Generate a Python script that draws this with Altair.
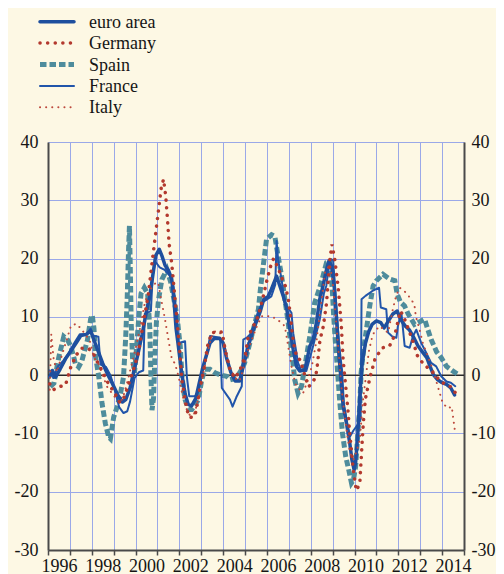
import altair as alt
import pandas as pd

# ---------------- data ----------------
SERIES = ["euro area", "Germany", "Spain", "France", "Italy"]

euro_years = [1996.08, 1996.2, 1996.35, 1996.55, 1996.8, 1997.05, 1997.3, 1997.5, 1997.75, 1997.95,
              1998.05, 1998.25, 1998.5, 1998.7, 1998.95, 1999.2, 1999.4, 1999.55, 1999.75, 1999.9,
              2000.1, 2000.3, 2000.5, 2000.65, 2000.8, 2000.92, 2001.08, 2001.2, 2001.35, 2001.5,
              2001.65, 2001.75, 2001.85, 2001.97, 2002.1, 2002.25, 2002.4, 2002.55, 2002.75, 2002.9,
              2003.05, 2003.2, 2003.4, 2003.6, 2003.85, 2004.0, 2004.15, 2004.35, 2004.55, 2004.75,
              2004.95, 2005.15, 2005.35, 2005.55, 2005.7, 2005.85, 2006.05, 2006.2, 2006.44, 2006.59,
              2006.75, 2006.9, 2007.05, 2007.2, 2007.35, 2007.5, 2007.73, 2007.96, 2008.11, 2008.26,
              2008.41, 2008.56, 2008.72, 2008.83, 2008.95, 2009.07, 2009.17, 2009.28, 2009.37, 2009.48,
              2009.63, 2009.78, 2009.88, 2009.98, 2010.05, 2010.15, 2010.25, 2010.35, 2010.5, 2010.65,
              2010.8, 2011.0, 2011.2, 2011.35, 2011.5, 2011.75, 2011.95, 2012.1, 2012.3, 2012.5,
              2012.7, 2012.9, 2013.1, 2013.3, 2013.45, 2013.6, 2013.8, 2014.0, 2014.2, 2014.4, 2014.57]
euro_vals = [-0.3, 0.8, -0.3, 1.0, 2.8, 4.2, 5.6, 6.8, 7.0, 7.6,
             6.5, 4.5, 2.0, 0.3, -1.5, -3.5, -4.6, -4.2, -2.2, 0.3,
             3.5, 7.0, 11.0, 13.5, 17.5, 20.5, 21.6, 20.5, 18.8, 18.0,
             16.5, 13.0, 8.0, 4.5, 0.5, -3.0, -5.0, -5.3, -4.0, -1.5,
             1.0, 3.0, 5.5, 6.3, 6.3, 5.5, 3.0, 0.5, -1.0, -1.0,
             2.0, 5.0, 7.5, 9.5, 11.0, 13.0, 13.5, 14.7, 17.0, 15.3,
             13.5, 11.5, 7.8, 4.4, 1.5, 0.7, 0.9, 5.0, 6.1, 9.0,
             13.0, 15.3, 18.1, 19.6, 18.7, 15.3, 10.1, 3.8, -0.2, -5.3,
             -8.2, -11.6, -14.5, -16.2, -15.0, -10.0, -3.0, 2.0, 5.5, 7.5,
             8.7, 9.3, 9.0, 8.1, 9.0, 10.5, 11.0, 9.6, 8.5, 7.8,
             6.5, 5.0, 4.0, 3.0, 1.5, 0.1, -0.8, -1.3, -1.6, -2.2, -3.4]

france_years = [1996.08, 1996.25, 1996.45, 1996.7, 1996.95, 1997.2, 1997.45, 1997.75, 1997.95, 1998.05,
                1998.3, 1998.4, 1998.65, 1998.85, 1999.05, 1999.25, 1999.45, 1999.62, 1999.75, 1999.85,
                1999.95, 2000.15, 2000.35, 2000.42, 2000.7, 2000.78, 2000.9, 2001.1, 2001.35, 2001.58,
                2001.73, 2001.89, 2001.96, 2002.26, 2002.34, 2002.45, 2002.72, 2002.85, 2003.1, 2003.3,
                2003.4, 2003.86, 2003.94, 2004.31, 2004.43, 2004.6, 2004.85, 2004.92, 2005.1, 2005.23,
                2005.4, 2005.6, 2005.8, 2006.0, 2006.2, 2006.38, 2006.44, 2006.51, 2006.67, 2006.82,
                2006.97, 2007.12, 2007.2, 2007.42, 2007.58, 2007.8, 2008.11, 2008.41, 2008.6, 2008.71,
                2008.79, 2008.9, 2009.02, 2009.09, 2009.17, 2009.3, 2009.43, 2009.51, 2009.66, 2009.8,
                2009.95, 2010.15, 2010.28, 2010.32, 2010.5, 2010.8, 2011.12, 2011.2, 2011.45, 2011.53,
                2011.7, 2011.91, 2011.98, 2012.14, 2012.29, 2012.52, 2012.67, 2012.82, 2013.05, 2013.28,
                2013.5, 2013.73, 2013.96, 2014.2, 2014.4, 2014.6]
france_vals = [0.8, -0.5, 1.5, 2.5, 3.8, 5.5, 7.0, 7.0, 8.0, 6.8,
               6.6, 1.8, 1.4, 0.0, -2.5, -5.5, -6.5, -6.2, -4.5, -2.5,
               -0.5, 0.5, 0.8, 10.5, 11.0, 17.0, 19.5, 18.5, 18.0, 17.0,
               15.3, 10.1, 5.5, 5.8, -0.2, -3.6, -3.6, -2.8, 1.0, 4.4,
               6.7, 6.4, -2.2, -4.2, -5.4, -3.8, -1.9, 6.1, 6.5, 7.0,
               8.5, 11.0, 12.5, 13.0, 13.5, 15.5, 23.0, 19.8, 16.4, 12.1,
               11.5, 10.7, 7.2, 2.1, 0.7, 0.7, 5.0, 9.5, 14.0, 15.3,
               17.6, 19.8, 19.8, 16.4, 11.8, 5.0, 0.9, -4.8, -8.2, -10.5,
               -9.5, -8.5, -7.5, 13.0, 13.6, 14.4, 15.0, 11.6, 11.3, 7.3,
               6.7, 6.4, 8.4, 10.7, 5.0, 4.7, 6.7, 7.8, 5.5, 3.8,
               2.1, 1.5, -0.2, -1.1, -1.3, -1.9]

germany_years = [1996.08, 1996.25, 1996.5, 1996.8, 1997.05, 1997.3, 1997.55, 1997.85, 1998.1, 1998.25,
                 1998.5, 1998.75, 1999.05, 1999.28, 1999.45, 1999.6, 1999.74, 1999.95, 2000.12, 2000.35,
                 2000.57, 2000.73, 2000.88, 2001.03, 2001.18, 2001.28, 2001.38, 2001.46, 2001.53, 2001.65,
                 2001.75, 2001.88, 2002.0, 2002.12, 2002.26, 2002.42, 2002.6, 2002.72, 2002.8, 2002.95,
                 2003.12, 2003.28, 2003.48, 2003.71, 2003.95, 2004.09, 2004.31, 2004.54, 2004.77, 2005.0,
                 2005.15, 2005.38, 2005.6, 2005.8, 2005.98, 2006.15, 2006.3, 2006.5, 2006.7, 2006.85,
                 2006.98, 2007.06, 2007.14, 2007.22, 2007.36, 2007.52, 2007.7, 2007.9, 2008.05, 2008.2,
                 2008.28, 2008.42, 2008.57, 2008.72, 2008.8, 2008.87, 2008.97, 2009.1, 2009.25, 2009.33,
                 2009.4, 2009.48, 2009.6, 2009.7, 2009.78, 2009.86, 2009.93, 2010.08, 2010.24, 2010.3,
                 2010.4, 2010.5, 2010.7, 2010.95, 2011.3, 2011.6, 2011.85, 2012.0, 2012.1, 2012.25,
                 2012.45, 2012.6, 2012.74, 2012.85, 2012.97, 2013.27, 2013.5, 2013.8, 2014.1, 2014.4, 2014.6]
germany_vals = [-1.5, -2.5, -2.0, -1.7, 1.5, 3.5, 4.6, 4.6, 3.5, 2.3,
                0.5, -1.4, -3.1, -4.7, -4.0, -2.5, -0.9, 1.5, 3.7, 8.9,
                13.5, 18.6, 23.2, 27.8, 32.4, 33.6, 30.6, 26.6, 22.6, 19.2,
                15.2, 10.0, 5.0, -1.0, -4.2, -7.1, -7.3, -6.8, -5.4, -2.0,
                0.9, 4.9, 7.3, 7.3, 7.4, 4.4, 0.9, -0.5, 0.9, 3.2,
                6.7, 8.4, 10.1, 13.0, 16.0, 18.5, 20.0, 18.5, 16.5, 15.2,
                12.9, 10.6, 7.7, 5.4, 3.1, 2.6, 0.3, -2.0, -1.4, -0.5,
                0.9, 6.0, 8.3, 12.3, 16.3, 19.8, 22.4, 19.8, 15.2, 11.7,
                8.3, 2.6, -2.0, -6.0, -10.0, -12.9, -15.8, -19.8, -18.6, -14.6,
                -8.3, -4.0, -0.5, 3.0, 4.7, 5.0, 7.0, 9.5, 11.0, 10.0,
                8.0, 6.5, 5.0, 3.5, 2.7, 1.5, 0.8, -0.5, -1.5, -2.0, -3.0]

italy_years = [1996.08, 1996.15, 1996.25, 1996.4, 1996.6, 1996.85, 1997.05, 1997.3, 1997.5, 1997.7,
               1997.9, 1998.1, 1998.3, 1998.5, 1998.7, 1998.9, 1999.1, 1999.3, 1999.45, 1999.6,
               1999.8, 2000.0, 2000.2, 2000.4, 2000.6, 2000.75, 2000.95, 2001.05, 2001.2, 2001.35,
               2001.5, 2001.66, 2001.8, 2001.96, 2002.19, 2002.35, 2002.5, 2002.7, 2002.9, 2003.1,
               2003.3, 2003.45, 2003.6, 2003.8, 2004.0, 2004.15, 2004.35, 2004.55, 2004.75, 2004.95,
               2005.15, 2005.35, 2005.55, 2005.76, 2006.06, 2006.36, 2006.59, 2006.82, 2006.97, 2007.12,
               2007.3, 2007.5, 2007.65, 2007.85, 2008.05, 2008.27, 2008.5, 2008.65, 2008.88, 2009.0,
               2009.1, 2009.25, 2009.4, 2009.55, 2009.7, 2009.8, 2009.95, 2010.1, 2010.24, 2010.39,
               2010.54, 2010.65, 2010.8, 2010.91, 2011.15, 2011.35, 2011.53, 2011.75, 2011.9, 2012.06,
               2012.28, 2012.6, 2012.74, 2012.8, 2012.97, 2013.12, 2013.35, 2013.58, 2013.8, 2014.03,
               2014.26, 2014.44, 2014.5, 2014.6]
italy_vals = [-2.5, 7.0, 3.0, 0.5, 3.0, 6.0, 8.5, 8.8, 8.0, 7.0,
              6.0, 3.0, 2.0, 0.0, -2.0, -3.0, -4.0, -4.8, -3.5, -1.5,
              1.5, 4.5, 8.0, 12.0, 14.5, 15.0, 16.0, 15.5, 12.4, 9.5,
              6.1, 2.7, 2.0, -0.2, -4.2, -6.0, -7.0, -6.5, -3.5, 0.5,
              4.0, 6.5, 7.5, 7.5, 6.5, 3.5, 1.0, -0.5, -1.0, 1.5,
              4.5, 6.5, 8.5, 10.1, 10.1, 9.8, 9.2, 8.4, 5.0, 1.5,
              -1.5, -2.5, -3.1, -1.0, 1.5, 6.1, 13.0, 17.6, 19.0, 16.0,
              11.8, 5.0, -2.0, -7.0, -11.1, -13.4, -14.5, -13.0, -11.1, -4.2,
              0.4, 4.0, 6.5, 7.5, 8.4, 7.8, 7.3, 11.3, 13.6, 15.0,
              14.4, 13.0, 11.9, 10.1, 7.8, 5.5, 3.2, 0.9, -1.9, -4.8,
              -5.7, -5.4, -7.1, -10.0]

spain_years = [1996.1, 1996.27, 1996.5, 1996.72, 1996.9, 1997.05, 1997.25, 1997.4, 1997.55, 1997.8,
               1997.95, 1998.02, 1998.1, 1998.17, 1998.32, 1998.47, 1998.62, 1998.77, 1998.85, 1999.0,
               1999.15, 1999.3, 1999.45, 1999.55, 1999.62, 1999.68, 1999.72, 1999.76, 1999.8, 1999.86,
               1999.95, 2000.05, 2000.15, 2000.25, 2000.4, 2000.55, 2000.65, 2000.7, 2000.75, 2000.82,
               2000.88, 2000.95, 2001.05, 2001.2, 2001.43, 2001.6, 2001.75, 2001.9, 2001.98, 2002.04,
               2002.11, 2002.19, 2002.26, 2002.42, 2002.57, 2002.87, 2003.02, 2003.17, 2003.4, 2003.63,
               2003.9, 2004.16, 2004.31, 2004.6, 2004.85, 2004.98, 2005.15, 2005.3, 2005.45, 2005.61,
               2005.7, 2005.83, 2005.98, 2006.21, 2006.36, 2006.51, 2006.67, 2006.82, 2006.97, 2007.12,
               2007.27, 2007.42, 2007.58, 2007.73, 2007.96, 2008.18, 2008.41, 2008.56, 2008.72, 2008.87,
               2008.98, 2009.05, 2009.12, 2009.2, 2009.33, 2009.45, 2009.6, 2009.75, 2009.86, 2009.95,
               2010.05, 2010.15, 2010.24, 2010.3, 2010.4, 2010.5, 2010.7, 2010.85, 2011.0, 2011.3,
               2011.6, 2011.84, 2011.95, 2012.1, 2012.28, 2012.45, 2012.74, 2013.0, 2013.2, 2013.35,
               2013.5, 2013.75, 2013.96, 2014.2, 2014.45, 2014.7]
spain_vals = [-2.0, -1.4, 3.2, 6.6, 6.0, 4.9, 2.0, 1.4, 2.5, 6.0,
              9.7, 10.3, 8.0, 3.2, -0.3, -4.9, -8.3, -10.6, -10.9, -7.2,
              -5.5, -3.4, -0.3, 6.6, 13.5, 21.5, 25.6, 18.0, 9.0, 3.0,
              0.4, 5.0, 10.0, 14.0, 15.0, 14.0, 8.0, 0.0, -6.0, -4.0,
              3.0, 9.0, 13.0, 16.4, 18.1, 16.0, 13.0, 10.0, 7.0, 5.0,
              0.4, -2.5, -4.2, -5.9, -5.9, -4.2, -0.8, 1.0, 1.0, 0.4,
              0.0, -0.2, -0.8, -0.5, 1.0, 2.1, 4.5, 6.7, 8.9, 11.3,
              14.7, 18.7, 23.3, 24.1, 23.8, 20.4, 17.0, 13.0, 9.0, 4.4,
              -0.8, -3.1, -1.9, 1.5, 6.7, 12.4, 15.0, 17.0, 19.3, 19.5,
              15.0, 10.0, 6.0, 2.0, -4.8, -10.0, -14.0, -16.5, -18.5, -18.0,
              -15.7, -10.0, -5.4, 0.4, 4.0, 6.7, 12.0, 15.3, 16.2, 17.3,
              16.5, 16.2, 13.9, 12.5, 11.9, 10.5, 8.7, 9.2, 9.6, 7.8,
              6.1, 4.0, 3.0, 1.5, 0.8, 0.2]

x_tick_years = list(range(1996, 2016))
y_tick_values = list(range(-30, 41, 10))

# ---------------- tables ----------------
series_data = {
    "euro area": (euro_years, euro_vals),
    "Germany": (germany_years, germany_vals),
    "Spain": (spain_years, spain_vals),
    "France": (france_years, france_vals),
    "Italy": (italy_years, italy_vals),
}
df = pd.concat(
    [pd.DataFrame({"year": ys, "value": vs, "series": name}) for name, (ys, vs) in series_data.items()],
    ignore_index=True,
)

legend_lines = pd.DataFrame(
    [{"series": s, "rank": i, "pos": p} for i, s in enumerate(SERIES) for p in (0, 1)]
)
legend_text = pd.DataFrame([{"series": s, "rank": i, "pos": 1.44} for i, s in enumerate(SERIES)])

# ---------------- styles ----------------
FONT = "Liberation Serif, Times New Roman, DejaVu Serif, serif"
BG = "#fdf8e4"
GRID = "#9aa8e8"
AXIS_COL = "#4a4a4a"
TEXT_COL = "#151515"

styles = {
    "euro area": dict(color="#1e4f9e", strokeWidth=3.5, strokeCap="round", strokeJoin="round"),
    "Germany": dict(color="#b3392e", strokeWidth=3.5, strokeDash=[0.1, 7.5], strokeCap="round"),
    "Spain": dict(color="#4e8c9c", strokeWidth=5, strokeDash=[6.5, 3], strokeCap="butt"),
    "France": dict(color="#2155aa", strokeWidth=2, strokeCap="round", strokeJoin="round"),
    "Italy": dict(color="#bd4a3e", strokeWidth=2, strokeDash=[0.1, 6], strokeCap="round"),
}
draw_order = ["Spain", "France", "euro area", "Italy", "Germany"]

xscale = alt.Scale(domain=[1996, 2015], nice=False, zero=False)
yscale = alt.Scale(domain=[-30, 40], nice=False, zero=False)
leg_x = alt.Scale(domain=[0, 1], range=[-8, 26], nice=False, zero=False)
leg_y = alt.Scale(domain=[0, 4], range=[-120.3, -34.7], nice=False, zero=False)

base = alt.Chart(df)

axis_common = dict(labelFont=FONT, labelFontSize=18, labelColor=TEXT_COL, title=None,
                   domainColor=AXIS_COL, domainWidth=2)

axes_main = base.mark_point(opacity=0).encode(
    x=alt.X("year:Q", scale=xscale, axis=alt.Axis(
        values=x_tick_years, grid=True, gridColor=GRID, gridWidth=1,
        ticks=True, tickSize=5, tickColor=AXIS_COL, tickWidth=1.5,
        labelExpr="datum.value % 2 == 0 && datum.value < 2015 ? toString(datum.value) : ''",
        labelOffset=11, labelPadding=2, labelFlush=False, labelOverlap=False,
        labelBaseline="top", **axis_common)),
    y=alt.Y("value:Q", scale=yscale, axis=alt.Axis(
        values=y_tick_values, grid=True, gridColor=GRID, gridWidth=1,
        labelExpr="toString(datum.value)",
        ticks=False, labelPadding=10, labelOverlap=False, **axis_common)),
)
axes_right = base.mark_point(opacity=0).encode(
    x=alt.X("year:Q", scale=xscale, axis=None),
    y=alt.Y("value:Q", scale=yscale, axis=alt.Axis(
        orient="right", values=y_tick_values, grid=False, ticks=False,
        labelExpr="toString(datum.value)",
        labelPadding=7, labelOverlap=False, **axis_common)),
)

zero_line = alt.Chart(pd.DataFrame({"value": [0]})).mark_rule(color="#2a2a2a", strokeWidth=1.5).encode(
    y=alt.Y("value:Q", scale=yscale, axis=None)
)

layers = [axes_main, axes_right, zero_line]
for name in draw_order:
    layers.append(
        base.transform_filter(alt.datum.series == name).mark_line(**styles[name]).encode(
            x=alt.X("year:Q", scale=xscale, axis=None),
            y=alt.Y("value:Q", scale=yscale, axis=None),
        )
    )

for name in SERIES:
    layers.append(
        alt.Chart(legend_lines).transform_filter(alt.datum.series == name).mark_line(**styles[name]).encode(
            x=alt.X("pos:Q", scale=leg_x, axis=None),
            y=alt.Y("rank:Q", scale=leg_y, axis=None),
        )
    )
layers.append(
    alt.Chart(legend_text).mark_text(align="left", baseline="alphabetic", dy=6, font=FONT,
                                     fontSize=18, color=TEXT_COL).encode(
        x=alt.X("pos:Q", scale=leg_x, axis=None),
        y=alt.Y("rank:Q", scale=leg_y, axis=None),
        text="series:N",
    )
)

chart = alt.layer(*layers).resolve_scale(x="independent", y="independent").properties(
    width=416,
    height=408,
    padding={"left": 40, "top": 134, "right": 32, "bottom": 24},
    autosize=alt.AutoSizeParams(type="none"),
    background=BG,
).configure_view(strokeWidth=0)

chart.save("out.html", embed_options={"renderer": "svg", "actions": False})
